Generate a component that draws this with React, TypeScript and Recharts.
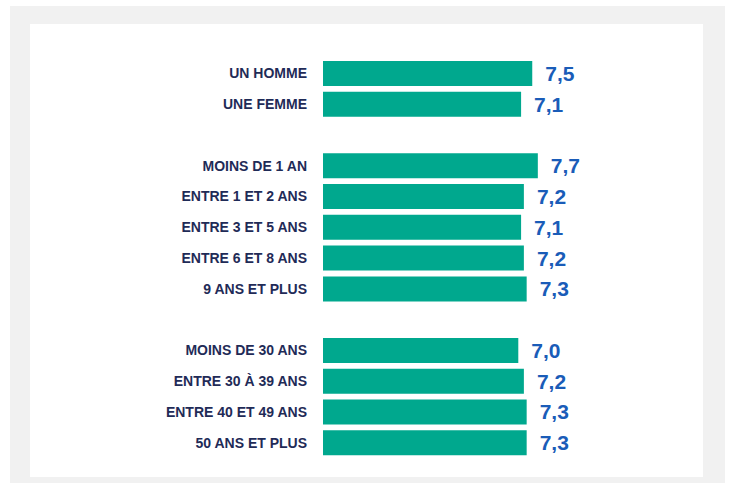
import React from 'react';
import { BarChart, Bar, XAxis, YAxis, LabelList } from 'recharts';

const sexLabels = ['UN HOMME', 'UNE FEMME'];
const sexValues = [7.5, 7.1];

const seniorityLabels = ['MOINS DE 1 AN', 'ENTRE 1 ET 2 ANS', 'ENTRE 3 ET 5 ANS', 'ENTRE 6 ET 8 ANS', '9 ANS ET PLUS'];
const seniorityValues = [7.7, 7.2, 7.1, 7.2, 7.3];

const ageLabels = ['MOINS DE 30 ANS', 'ENTRE 30 À 39 ANS', 'ENTRE 40 ET 49 ANS', '50 ANS ET PLUS'];
const ageValues = [7.0, 7.2, 7.3, 7.3];

const groups = [
  { labels: sexLabels, values: sexValues },
  { labels: seniorityLabels, values: seniorityValues },
  { labels: ageLabels, values: ageValues },
];

type Row = { key: string; label: string; value: number | null };
const data: Row[] = [];
groups.forEach((g, gi) => {
  if (gi > 0) data.push({ key: 'gap' + gi, label: '', value: null });
  g.labels.forEach((l, i) => data.push({ key: 'g' + gi + '_' + i, label: l, value: g.values[i] }));
});

const labelByKey: Record<string, string> = {};
data.forEach((d) => (labelByKey[d.key] = d.label));

const FONT = '"Liberation Sans", Arial, sans-serif';

const CategoryTick = (props: any) => {
  const { x, y, payload } = props;
  const text = labelByKey[payload.value] || '';
  return (
    <text x={x} y={y} dy={5} textAnchor="end" fontFamily={FONT} fontSize={14} fontWeight="bold" fill="#1F2B57">
      {text}
    </text>
  );
};

export default function App() {
  return (
    <div style={{ position: 'absolute', left: 0, top: 0, width: 730, height: 483, background: '#ffffff' }}>
      <div style={{ position: 'absolute', left: 10, top: 6, width: 715, height: 477, background: '#F1F1F1' }} />
      <div style={{ position: 'absolute', left: 30, top: 24, width: 673, height: 453, background: '#ffffff' }} />
      <div style={{ position: 'absolute', left: 0, top: 0 }}>
        <BarChart
          width={730}
          height={483}
          data={data}
          layout="vertical"
          margin={{ top: 58, right: 128, bottom: 25, left: 0 }}
          barSize={25}
        >
          <XAxis type="number" domain={[0, 10]} hide />
          <YAxis
            type="category"
            dataKey="key"
            width={323}
            axisLine={false}
            tickLine={false}
            interval={0}
            tickMargin={10}
            tick={<CategoryTick />}
          />
          <Bar dataKey="value" fill="#00A88E" isAnimationActive={false}>
            <LabelList
              dataKey="value"
              position="right"
              offset={13}
              formatter={(v: any) => (v == null ? '' : Number(v).toFixed(1).replace('.', ','))}
              fill="#1A5CB8"
              fontSize={21}
              fontWeight="bold"
              fontFamily={FONT}
            />
          </Bar>
        </BarChart>
      </div>
    </div>
  );
}
